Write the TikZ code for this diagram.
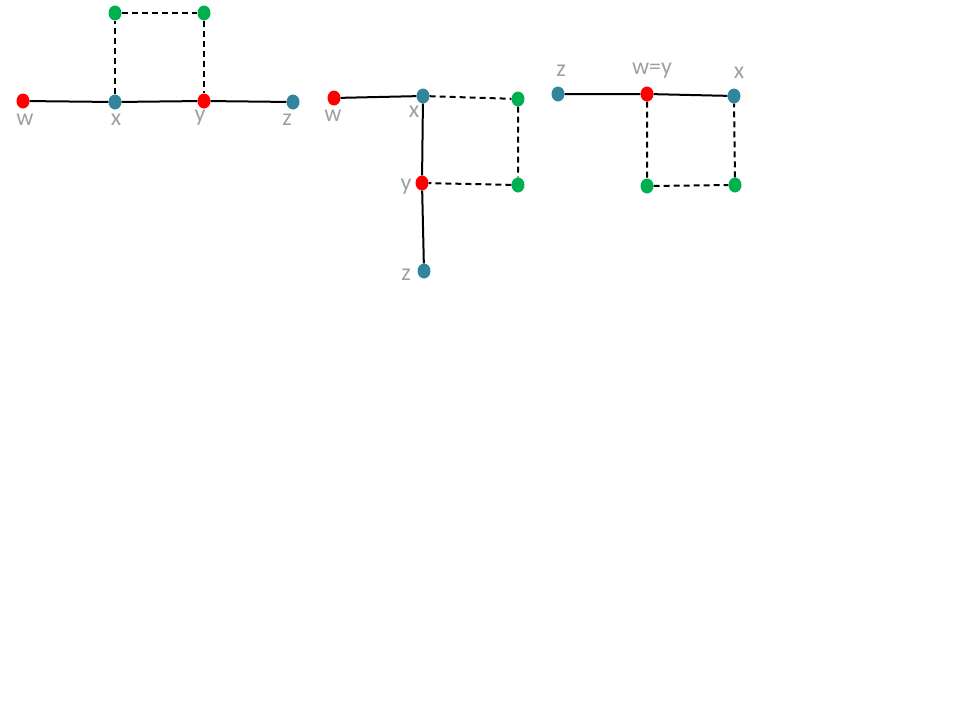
\documentclass[tikz,border=0pt]{standalone}
\usepackage{fontspec}
\setmainfont{Carlito}
\usetikzlibrary{shapes.geometric}
\definecolor{vred}{HTML}{FF0000}
\definecolor{vteal}{HTML}{31859C}
\definecolor{vgreen}{HTML}{00B050}
\definecolor{lblgray}{HTML}{A0A0A0}
\begin{document}
\begin{tikzpicture}[x=1pt,y=-1pt,
  vtx/.style={ellipse,minimum width=13pt,minimum height=15pt,inner sep=0pt,draw=none},
  rv/.style={vtx,fill=vred},
  tv/.style={vtx,fill=vteal},
  gv/.style={vtx,fill=vgreen},
  lbl/.style={text=lblgray,font=\fontsize{24}{28}\selectfont,inner sep=0pt},
  edge/.style={line width=2pt,black},
  dedge/.style={line width=2pt,black,dash pattern=on 6pt off 4pt}]
\useasboundingbox (0,0) rectangle (960,720);
% diagram 1
\node[rv] (aw) at (23,101) {};
\node[tv] (ax) at (115,102) {};
\node[rv] (ay) at (204,101) {};
\node[tv] (az) at (293,102) {};
\node[gv] (ag1) at (115,13) {};
\node[gv] (ag2) at (204,13) {};
\draw[edge] (aw) -- (ax) -- (ay) -- (az);
\draw[dedge] (ax) -- (ag1) -- (ag2) -- (ay);
\node[lbl] (law) at (25,120) {w};
\node[lbl] (lax) at (116,120) {x};
\node[lbl] (lay) at (200,118) {y};
\node[lbl] (laz) at (287,120) {z};
% diagram 2
\node[rv] (bw) at (334,98) {};
\node[tv] (bx) at (423,96) {};
\node[gv] (bg1) at (518,99) {};
\node[rv] (by) at (422,183) {};
\node[gv] (bg2) at (518,185) {};
\node[tv] (bz) at (424,271) {};
\draw[edge] (bw) -- (bx) -- (by) -- (bz);
\draw[dedge] (bx) -- (bg1) -- (bg2) -- (by);
\node[lbl] (lbw) at (333,116) {w};
\node[lbl] (lbx) at (414,112) {x};
\node[lbl] (lby) at (406,187) {y};
\node[lbl] (lbz) at (406,275) {z};
% diagram 3
\node[tv] (cz) at (558,94) {};
\node[rv] (cwy) at (647,94) {};
\node[tv] (cx) at (734,96) {};
\node[gv] (cg1) at (647,186) {};
\node[gv] (cg2) at (735,185) {};
\draw[edge] (cz) -- (cwy) -- (cx);
\draw[dedge] (cwy) -- (cg1) -- (cg2) -- (cx);
\node[lbl] (lcz) at (561,71) {z};
\node[lbl] (lcwy) at (652,71) {w=y};
\node[lbl] (lcx) at (739,73) {x};
\end{tikzpicture}
\end{document}
